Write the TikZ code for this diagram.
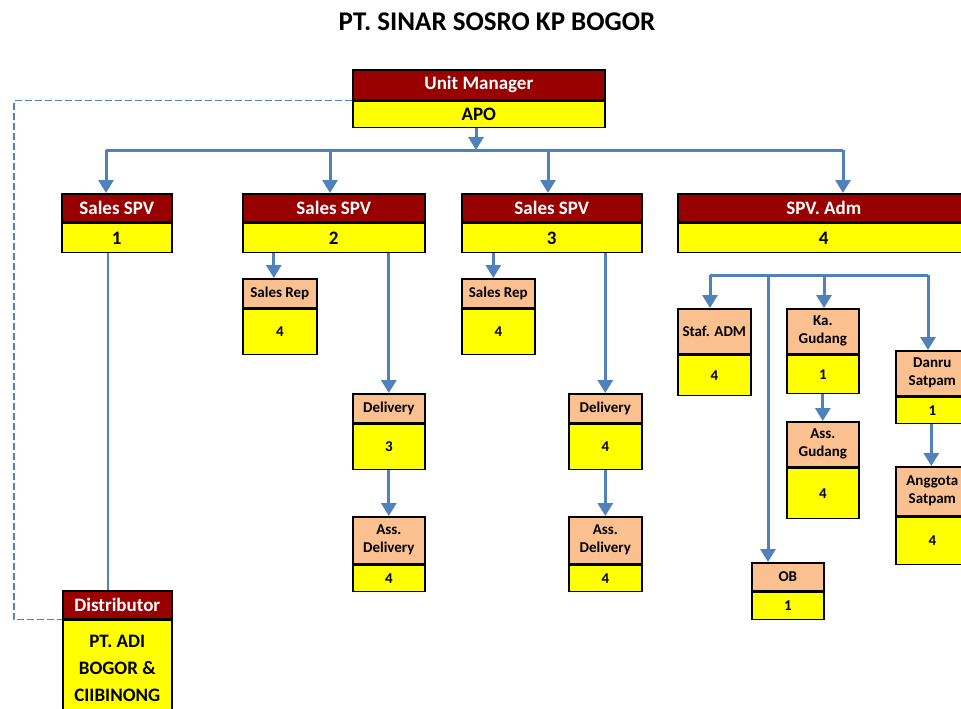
\documentclass[tikz,border=0pt]{standalone}
\usepackage{fontspec}
\setmainfont{Carlito}
\usetikzlibrary{arrows.meta}
\definecolor{hdred}{HTML}{990000}
\definecolor{peach}{HTML}{FAC090}
\definecolor{lnblue}{HTML}{4F81BD}
\definecolor{ylw}{HTML}{FFFF00}
\newcommand\twobox[9]{%
  \node[#7, minimum width=#4pt, minimum height=#5pt] (#1-t) at (#2,#3) {#8};
  \node[#7val, minimum width=#4pt, minimum height=#6pt] (#1-b) at (#1-t.south west) {#9};}
\tikzset{
  base/.style={draw=black, line width=1.6pt, anchor=north west, inner sep=0pt, align=center, text=black},
  big/.style={base, fill=hdred, text=white, font=\bfseries\fontsize{19}{21}\selectfont},
  bigval/.style={base, fill=ylw, font=\bfseries\fontsize{19}{21}\selectfont},
  small/.style={base, fill=peach, font=\bfseries\fontsize{15}{18}\selectfont},
  smallval/.style={base, fill=ylw, font=\bfseries\fontsize{15}{17}\selectfont},
  dist/.style={big},
  distval/.style={base, fill=ylw, font=\bfseries\fontsize{19}{27}\selectfont},
  ln/.style={draw=lnblue, line width=3pt},
  arr/.style={draw=lnblue, line width=3pt, -{Triangle[length=13pt,width=15pt]}},
  thinln/.style={draw=lnblue, line width=1.5pt},
  dashln/.style={draw=lnblue, line width=1.5pt, dash pattern=on 7pt off 3pt}
}
\begin{document}
\begin{tikzpicture}[x=1pt, y=-1pt]
\useasboundingbox (0,0) rectangle (961,709);
\node[font=\bfseries\fontsize{27}{31}\selectfont] (title) at (497,22) {PT. SINAR SOSRO KP BOGOR};

\twobox{um}{352}{69}{252}{30}{26}{big}{Unit Manager}{APO}
\twobox{s1}{61}{193}{110}{28}{29}{big}{Sales SPV}{1}
\twobox{s2}{242}{193}{182}{28}{29}{big}{Sales SPV}{2}
\twobox{s3}{461}{193}{180}{28}{29}{big}{Sales SPV}{3}
\twobox{sa}{677}{193}{292}{28}{29}{big}{SPV. Adm}{4}
\twobox{r2}{242}{278}{74}{29}{45}{small}{Sales Rep}{4}
\twobox{d2}{352}{393}{72}{29}{45}{small}{Delivery}{3}
\twobox{a2}{352}{516}{72}{47}{26}{small}{Ass.\\Delivery}{4}
\twobox{r3}{461}{278}{73}{29}{45}{small}{Sales Rep}{4}
\twobox{d3}{568}{393}{73}{29}{45}{small}{Delivery}{4}
\twobox{a3}{568}{516}{73}{47}{26}{small}{Ass.\\Delivery}{4}
\twobox{st}{677}{308}{73}{45}{40}{small}{Staf. ADM}{4}
\twobox{kg}{786}{308}{72}{45}{38}{small}{Ka.\\Gudang}{1}
\twobox{ag}{786}{421}{72}{45}{50}{small}{Ass.\\Gudang}{4}
\twobox{dn}{895}{350}{73}{45}{26}{small}{Danru\\Satpam}{1}
\twobox{an}{895}{466}{73}{49}{47}{small}{Anggota\\Satpam}{4}
\twobox{ob}{751}{562}{72}{28}{27}{small}{OB}{1}
\twobox{ds}{62}{590}{109}{28}{95}{dist}{Distributor}{PT. ADI\\BOGOR \&\\CIIBINONG}

% main bus
\coordinate (b0) at (476,150);
\coordinate (b1) at (106,150);
\coordinate (b2) at (330,150);
\coordinate (b3) at (548,150);
\coordinate (b4) at (843,150);
\draw[ln] (b1) -- (b4);
\draw[arr] (um-b.south -| b0) -- (b0);
\draw[arr] (b1) -- (b1 |- s1-t.north);
\draw[arr] (b2) -- (b2 |- s2-t.north);
\draw[arr] (b3) -- (b3 |- s3-t.north);
\draw[arr] (b4) -- (b4 |- sa-t.north);

% SPV 2 and 3 children
\draw[arr] ([xshift=-6pt]r2-t.north |- s2-b.south) -- ([xshift=-6pt]r2-t.north);
\draw[arr] (d2-t.north |- s2-b.south) -- (d2-t.north);
\draw[arr] (d2-b.south) -- (a2-t.north);
\draw[arr] ([xshift=-5pt]r3-t.north |- s3-b.south) -- ([xshift=-5pt]r3-t.north);
\draw[arr] (d3-t.north |- s3-b.south) -- (d3-t.north);
\draw[arr] (d3-b.south) -- (a3-t.north);

% Adm bus
\coordinate (rb1) at (710,275);
\coordinate (rb2) at (768,275);
\coordinate (rb3) at (824,275);
\coordinate (rb4) at (928,275);
\draw[ln] (rb1) -- (rb4);
\draw[arr] (rb1) -- (rb1 |- st-t.north);
\draw[arr] (rb2) -- (rb2 |- ob-t.north);
\draw[arr] (rb3) -- (rb3 |- kg-t.north);
\draw[arr] (rb4) -- (rb4 |- dn-t.north);
\draw[arr] (kg-b.south) -- (ag-t.north);
\draw[arr] ([xshift=-1pt]dn-b.south) -- ([xshift=-1pt]an-t.north);

% distributor links
\draw[thinln] ([xshift=-9pt]s1-b.south) -- ([xshift=-9pt]s1-b.south |- ds-t.north);
\coordinate (dc) at (14,400);
\draw[dashln] (um-t.south west) -| (dc) |- (ds-b.north west);
\end{tikzpicture}
\end{document}
